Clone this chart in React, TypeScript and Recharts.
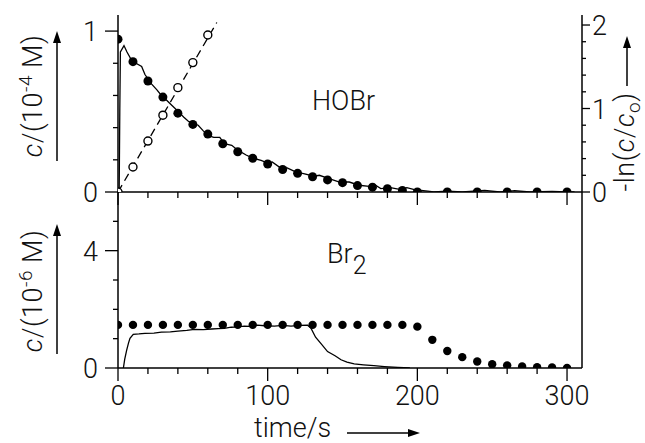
import { ComposedChart, Line, Scatter, XAxis, YAxis } from "recharts"

const FONT = "Roboto, 'Liberation Sans', Arial, sans-serif"
const WEIGHT = 300
const INK = "#111"

// HOBr panel: measured points (filled), -ln(c/c0) points (open), fit line, recorded trace
const hobrTime = [0, 10, 20, 30, 40, 50, 60, 70, 80, 90, 100, 110, 120, 130, 140, 150, 160, 170, 180, 190, 200, 220, 240, 260, 280, 300]
const hobrConc = [0.95, 0.81, 0.69, 0.59, 0.49, 0.42, 0.36, 0.3, 0.25, 0.21, 0.174, 0.14, 0.116, 0.095, 0.075, 0.058, 0.04, 0.03, 0.02, 0.01, 0, 0, 0, 0, 0, 0]
const lnTime = [0, 10, 20, 30, 40, 50, 60]
const lnValue = [0, 0.3, 0.61, 0.92, 1.25, 1.55, 1.88]
const lnFitTime = [0, 66]
const lnFitValue = [0, 2.03]
const hobrTraceTime = [0.8, 1.2, 1.6, 4, 6, 9, 12, 15.8, 18, 22.5, 26, 29, 32, 34.7, 38, 41.3, 44, 47, 50, 53.6, 57, 60.3, 64, 67, 68, 71, 76, 80, 85.6, 90, 95.6, 100, 103, 107.8, 113, 119, 124, 131, 134.5, 141, 148, 154.5, 161, 167.8, 171, 175.6, 182, 189, 193, 198, 207, 211, 220, 230, 245, 255, 265, 275, 290, 300, 305]
const hobrTraceConc = [0.02, 0.5, 0.87, 0.91, 0.87, 0.82, 0.8, 0.78, 0.73, 0.67, 0.635, 0.6, 0.575, 0.55, 0.52, 0.49, 0.465, 0.44, 0.425, 0.415, 0.38, 0.35, 0.34, 0.34, 0.34, 0.3, 0.29, 0.26, 0.23, 0.21, 0.197, 0.18, 0.187, 0.155, 0.15, 0.124, 0.114, 0.098, 0.104, 0.083, 0.062, 0.062, 0.042, 0.035, 0.048, 0.021, 0.027, 0.015, 0.027, 0.015, 0.006, 0, 0.005, 0, 0.01, 0, 0.008, 0, 0.004, 0, 0]

// Br2 panel
const br2Time = [0, 10, 20, 30, 40, 50, 60, 70, 80, 90, 100, 110, 120, 130, 140, 150, 160, 170, 180, 190, 200, 210, 220, 230, 240, 250, 260, 270, 280, 290, 300]
const br2Conc = [1.47, 1.47, 1.47, 1.47, 1.47, 1.47, 1.47, 1.47, 1.47, 1.47, 1.47, 1.47, 1.47, 1.47, 1.47, 1.47, 1.47, 1.47, 1.47, 1.47, 1.41, 0.96, 0.58, 0.37, 0.22, 0.13, 0.09, 0.05, 0.03, 0.02, 0]
const br2TraceTime = [3.6, 4.5, 5.8, 7, 8, 10.2, 14, 18, 24, 29, 35, 40, 46, 51, 57, 62.5, 67, 71, 75.6, 80, 84.4, 88, 93, 98, 104.5, 110, 115.6, 121, 126.7, 129, 132, 135.5, 140, 145, 149, 153, 157.8, 164, 171, 178, 187, 195]
const br2TraceConc = [0, 0.3, 0.61, 0.85, 1.01, 1.15, 1.16, 1.18, 1.19, 1.22, 1.23, 1.26, 1.28, 1.32, 1.31, 1.33, 1.34, 1.35, 1.39, 1.4, 1.43, 1.42, 1.46, 1.44, 1.43, 1.45, 1.43, 1.45, 1.46, 1.35, 1.05, 0.84, 0.56, 0.42, 0.28, 0.2, 0.14, 0.11, 0.08, 0.05, 0.02, 0]

// ticks
const timeTicks = [0, 20, 40, 60, 80, 100, 120, 140, 160, 180, 200, 220, 240, 260, 280, 300]
const timeLabels = [0, 100, 200, 300]
const hobrTicks = [0, 0.2, 0.4, 0.6, 0.8, 1]
const hobrLabels = [0, 1]
const lnTicks = [0, 0.2, 0.4, 0.6, 0.8, 1, 1.2, 1.4, 1.6, 1.8, 2]
const lnLabels = [0, 1, 2]
const br2Ticks = [0, 1, 2, 3, 4, 5]
const br2Labels = [0, 4]

const zip = (xs: number[], ys: number[]) => xs.map((t, i) => ({ t, v: ys[i] }))

const leftTick = (labels: number[]) => (p: any) => {
  const major = labels.includes(p.payload.value)
  return (
    <g>
      <line x1={p.x} x2={p.x - (major ? 13 : 5)} y1={p.y} y2={p.y} stroke="#000" strokeWidth={1.3} />
      {major && <text x={p.x - 20} y={p.y + 10} textAnchor="end" fontSize={27} fontWeight={WEIGHT} fontFamily={FONT} fill={INK}>{p.payload.value}</text>}
    </g>
  )
}

const rightTick = (labels: number[]) => (p: any) => {
  const major = labels.includes(p.payload.value)
  return (
    <g>
      <line x1={p.x} x2={p.x + (major ? 8 : 4)} y1={p.y} y2={p.y} stroke="#000" strokeWidth={1.3} />
      {major && <text x={p.x + 10} y={p.y + 10} textAnchor="start" fontSize={27} fontWeight={WEIGHT} fontFamily={FONT} fill={INK}>{p.payload.value}</text>}
    </g>
  )
}

const timeTick = (showLabels: boolean) => (p: any) => {
  const major = timeLabels.includes(p.payload.value)
  return (
    <g>
      <line x1={p.x} x2={p.x} y1={p.y} y2={p.y + (major ? 13 : 6)} stroke="#000" strokeWidth={1.3} />
      {showLabels && major && <text x={p.x} y={p.y + 37} textAnchor="middle" fontSize={27} fontWeight={WEIGHT} fontFamily={FONT} fill={INK}>{p.payload.value}</text>}
    </g>
  )
}

const filledDot = (r: number) => (p: any) => <circle cx={p.cx} cy={p.cy} r={r} fill="#000" />
const openDot = (p: any) => <circle cx={p.cx} cy={p.cy} r={4} fill="#fff" stroke="#000" strokeWidth={1.4} />

function Arrow({ x1, y1, x2, y2 }: { x1: number; y1: number; x2: number; y2: number }) {
  const a = Math.atan2(y2 - y1, x2 - x1)
  const L = 12, W = 4
  const bx = x2 - L * Math.cos(a), by = y2 - L * Math.sin(a)
  const nx = -Math.sin(a) * W, ny = Math.cos(a) * W
  return (
    <g>
      <line x1={x1} y1={y1} x2={bx} y2={by} stroke="#000" strokeWidth={1.5} />
      <polygon points={`${x2},${y2} ${bx + nx},${by + ny} ${bx - nx},${by - ny}`} fill="#000" />
    </g>
  )
}

export default function App() {
  const axisStroke = { stroke: "#000", strokeWidth: 1.5 }
  return (
    <div style={{ position: "fixed", left: 0, top: 0, width: 645, height: 443, background: "#fff", overflow: "hidden" }}>
      <div style={{ position: "absolute", left: 0, top: 0 }}>
        <ComposedChart width={645} height={210} margin={{ top: 15, right: 0, bottom: 0, left: 0 }}>
          <XAxis xAxisId="b" dataKey="t" type="number" domain={[0, 310]} ticks={timeTicks} interval={0} height={18}
            tickSize={0} tickMargin={0} tickLine={false} axisLine={axisStroke} tick={timeTick(false)} allowDataOverflow />
          <XAxis xAxisId="top" orientation="top" dataKey="t" type="number" domain={[0, 310]} height={0} tick={false} tickLine={false} axisLine={axisStroke} />
          <YAxis yAxisId="l" type="number" domain={[0, 1.1]} ticks={hobrTicks} interval={0} width={118}
            tickSize={0} tickMargin={0} tickLine={false} axisLine={axisStroke} tick={leftTick(hobrLabels)} allowDataOverflow />
          <YAxis yAxisId="r" orientation="right" type="number" domain={[0, 2.12]} ticks={lnTicks} interval={0} width={63}
            tickSize={0} tickMargin={0} tickLine={false} axisLine={axisStroke} tick={rightTick(lnLabels)} allowDataOverflow />
          <Line xAxisId="b" yAxisId="l" data={zip(hobrTraceTime, hobrTraceConc)} dataKey="v" type="linear" stroke="#000" strokeWidth={1.3} dot={false} isAnimationActive={false} />
          <Line xAxisId="b" yAxisId="r" data={zip(lnFitTime, lnFitValue)} dataKey="v" type="linear" stroke="#000" strokeWidth={1.3} strokeDasharray="8 5" dot={false} isAnimationActive={false} />
          <Scatter xAxisId="b" yAxisId="l" data={zip(hobrTime, hobrConc)} dataKey="v" shape={filledDot(4.5)} isAnimationActive={false} />
          <Scatter xAxisId="b" yAxisId="r" data={zip(lnTime, lnValue)} dataKey="v" shape={openDot} isAnimationActive={false} />
        </ComposedChart>
      </div>
      <div style={{ position: "absolute", left: 0, top: 180 }}>
        <ComposedChart width={645} height={263} margin={{ top: 12, right: 0, bottom: 0, left: 0 }}>
          <XAxis xAxisId="b" dataKey="t" type="number" domain={[0, 310]} ticks={timeTicks} interval={0} height={75}
            tickSize={0} tickMargin={0} tickLine={false} axisLine={axisStroke} tick={timeTick(true)} allowDataOverflow />
          <YAxis yAxisId="l" type="number" domain={[0, 6]} ticks={br2Ticks} interval={0} width={118}
            tickSize={0} tickMargin={0} tickLine={false} axisLine={axisStroke} tick={leftTick(br2Labels)} allowDataOverflow />
          <YAxis yAxisId="r" orientation="right" type="number" domain={[0, 6]} width={63} tick={false} tickLine={false} axisLine={axisStroke} />
          <Line xAxisId="b" yAxisId="l" data={zip(br2TraceTime, br2TraceConc)} dataKey="v" type="linear" stroke="#000" strokeWidth={1.3} dot={false} isAnimationActive={false} />
          <Scatter xAxisId="b" yAxisId="l" data={zip(br2Time, br2Conc)} dataKey="v" shape={filledDot(4.2)} isAnimationActive={false} />
        </ComposedChart>
      </div>
      <svg width={645} height={443} style={{ position: "absolute", left: 0, top: 0, pointerEvents: "none" }} fontFamily={FONT} fontWeight={WEIGHT} fill={INK}>
        <text x={312} y={110} fontSize={27}>HOBr</text>
        <text x={327} y={263} fontSize={27}>Br<tspan dy={11} fontSize={25}>2</tspan></text>
        <text x={254} y={437} fontSize={27}>time/s</text>
        <Arrow x1={347} y1={433} x2={420} y2={433} />

        <text transform="translate(42,96) rotate(-90)" textAnchor="middle" fontSize={27} letterSpacing={0.5}>
          <tspan fontStyle="italic">c</tspan>/(10<tspan dy={-10} fontSize={19}>-4</tspan><tspan dy={10}> M)</tspan>
        </text>
        <Arrow x1={57} y1={161} x2={57} y2={31} />

        <text transform="translate(42,291) rotate(-90)" textAnchor="middle" fontSize={27} letterSpacing={0.5}>
          <tspan fontStyle="italic">c</tspan>/(10<tspan dy={-10} fontSize={19}>-6</tspan><tspan dy={10}> M)</tspan>
        </text>
        <Arrow x1={57} y1={354} x2={57} y2={224} />

        <text transform="translate(634,142) rotate(-90)" textAnchor="middle" fontSize={27} letterSpacing={0.5}>
          -ln(<tspan fontStyle="italic">c</tspan>/<tspan fontStyle="italic">c</tspan><tspan dy={6} fontSize={19}>o</tspan><tspan dy={-6}>)</tspan>
        </text>
        <Arrow x1={627} y1={86} x2={627} y2={36} />
      </svg>
    </div>
  )
}
